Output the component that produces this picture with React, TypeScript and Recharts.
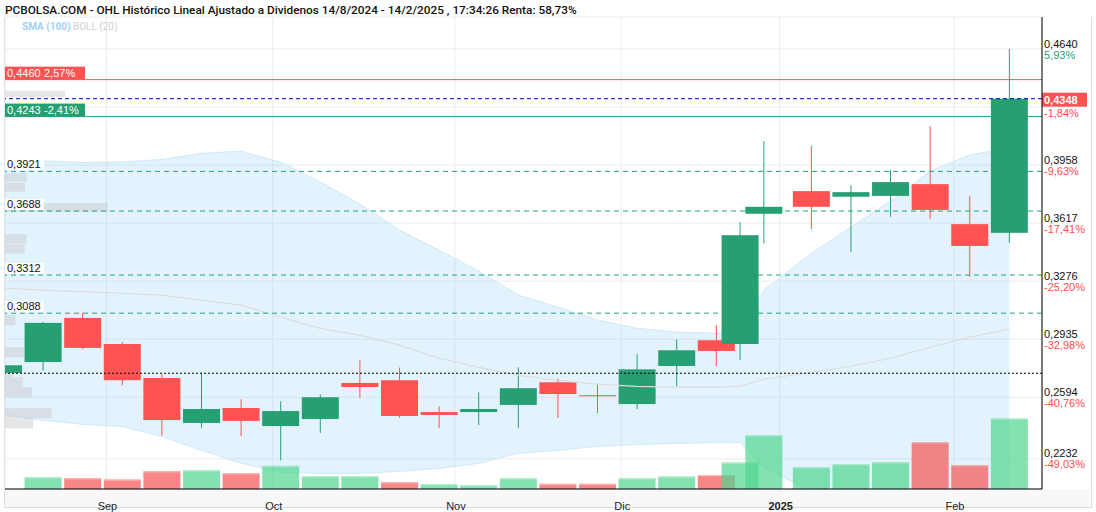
import React from "react";
import {
  ComposedChart,
  Bar,
  Area,
  Line,
  XAxis,
  YAxis,
  CartesianGrid,
  ReferenceLine,
  ReferenceArea,
} from "recharts";

const W = 1096;
const H = 512;
const GREEN = "#26a073";
const RED = "#ff5252";
const FONT = "'Liberation Sans', Arial, sans-serif";
const BODY_W = 37;

// weekly candles; x is the trading-day index of each candle
const tradeDay = [0, 5, 10, 15, 20, 25, 30, 35, 40, 45, 50, 55, 60, 65, 70, 75, 80, 85, 90, 93, 96, 102, 107, 112, 117, 122, 127];
const opens = [0.2737, 0.2801, 0.306, 0.2907, 0.2707, 0.2443, 0.2531, 0.2425, 0.2466, 0.2678, 0.2694, 0.2507, 0.2507, 0.2549, 0.2682, 0.2606, 0.2554, 0.2778, 0.2929, 0.2907, 0.3672, 0.3805, 0.3772, 0.3777, 0.3846, 0.3611, 0.356];
const highs = [0.2788, 0.3037, 0.309, 0.2919, 0.2729, 0.2737, 0.2582, 0.257, 0.2611, 0.2811, 0.2768, 0.2541, 0.2623, 0.277, 0.2704, 0.2674, 0.2847, 0.2933, 0.3017, 0.3623, 0.4099, 0.407, 0.384, 0.3929, 0.4187, 0.3776, 0.464];
const lows = [0.2732, 0.2749, 0.2876, 0.2664, 0.237, 0.2413, 0.2366, 0.2223, 0.2384, 0.259, 0.2474, 0.2413, 0.2431, 0.2413, 0.2472, 0.2501, 0.2525, 0.266, 0.2778, 0.2813, 0.3498, 0.3583, 0.3448, 0.3654, 0.3642, 0.3301, 0.3501];
const closes = [0.2782, 0.3031, 0.2884, 0.2694, 0.246, 0.2525, 0.2455, 0.2513, 0.2594, 0.2654, 0.2484, 0.249, 0.2525, 0.2647, 0.2613, 0.26, 0.2758, 0.287, 0.2866, 0.3546, 0.3713, 0.3713, 0.3799, 0.3858, 0.3695, 0.3483, 0.4348];
// volume (millions)
const volumes = [null, 1.2, 1.1, 0.97, 1.8, 1.9, 1.6, 2.33, 1.3, 1.3, 0.7, 0.5, 0.4, 1.1, 0.53, 0.53, 1.1, 1.27, 1.4, 2.67, 5.4, 2.2, 2.5, 2.7, 4.7, 2.4, 7.07];
// Bollinger (20)
const bollUp = [0.3982, 0.3982, 0.3974, 0.3976, 0.3991, 0.4027, 0.404, 0.3974, 0.3858, 0.3729, 0.3576, 0.3458, 0.3335, 0.3194, 0.3123, 0.3047, 0.2999, 0.2976, 0.297, 0.297, 0.3223, 0.344, 0.3593, 0.3746, 0.3923, 0.4017, 0.4058];
const bollMid = [0.3235, 0.3223, 0.3214, 0.3205, 0.3194, 0.3164, 0.3135, 0.3064, 0.2999, 0.2958, 0.29, 0.2823, 0.277, 0.2723, 0.2694, 0.267, 0.2658, 0.2653, 0.2653, 0.2658, 0.27, 0.2741, 0.2776, 0.2823, 0.2888, 0.2947, 0.2994];
const bollLow = [0.2488, 0.2459, 0.2435, 0.2423, 0.2364, 0.2282, 0.2206, 0.2153, 0.2147, 0.2147, 0.2159, 0.2176, 0.2206, 0.2265, 0.2282, 0.2306, 0.2317, 0.2323, 0.2329, 0.2329, 0.2182, 0.2041, 0.1958, 0.19, 0.1853, 0.1876, 0.1929];

// volume by price, left side (percent of the chart width)
const profileTop = [0.4395, 0.3911, 0.3855, 0.3735, 0.3552, 0.3491, 0.3076, 0.2888, 0.2732, 0.2712, 0.2653, 0.2529, 0.247];
const profileBottom = [0.4356, 0.3861, 0.3802, 0.3682, 0.3496, 0.3438, 0.3017, 0.2829, 0.2712, 0.2653, 0.2594, 0.247, 0.2411];
const profileSize = [5.8, 2.1, 1.9, 9.9, 2.1, 1.9, 1.0, 1.9, 0.8, 1.7, 2.6, 4.5, 2.7];

const monthTicks = [13, 34, 57, 78, 98, 120];
const monthLabels = ["Sep", "Oct", "Nov", "Dic", "2025", "Feb"];
const priceTicks = [0.464, 0.4299, 0.3958, 0.3617, 0.3276, 0.2935, 0.2594, 0.2232];
const priceTickPct = ["5,93%", "-1,84%", "-9,63%", "-17,41%", "-25,20%", "-32,98%", "-40,76%", "-49,03%"];

const tagPrices = [0.446, 0.4243];
const tagPct = ["2,57%", "-2,41%"];
const supportLevels = [0.3921, 0.3688, 0.3312, 0.3088];
const dottedLevel = 0.2735;

const X_DOMAIN = [0.19, 131.12];
const Y_DOMAIN = [0.2055, 0.4828];
const X_SPAN = X_DOMAIN[1] - X_DOMAIN[0];

const fmt = (v: number) => v.toFixed(4).replace(".", ",");

const data = tradeDay.map((t, i) => ({
  t,
  o: opens[i],
  h: highs[i],
  l: lows[i],
  c: closes[i],
  vol: volumes[i],
  volUp: i > 0 && closes[i] >= closes[i - 1],
  band: [bollLow[i], bollUp[i]],
  mid: bollMid[i],
}));

const lastClose = closes[closes.length - 1];

const Candle = (props: any) => {
  const { x, y, width, height, payload } = props;
  if (payload == null) return null;
  const top = Math.min(y, y + height);
  const hh = Math.abs(height);
  const cx = x + width / 2;
  const k = hh / (payload.h - payload.l);
  const yOf = (v: number) => top + (payload.h - v) * k;
  const bTop = yOf(Math.max(payload.o, payload.c));
  const bBot = yOf(Math.min(payload.o, payload.c));
  const col = payload.c >= payload.o ? GREEN : RED;
  return (
    <g>
      <line x1={cx} x2={cx} y1={top} y2={top + hh} stroke={col} strokeWidth={1} />
      <rect x={cx - BODY_W / 2} y={bTop} width={BODY_W} height={Math.max(1, bBot - bTop)} fill={col} />
    </g>
  );
};

const VolBar = (props: any) => {
  const { x, y, width, height, payload } = props;
  if (payload == null || payload.vol == null) return null;
  const cx = x + width / 2;
  const col = payload.volUp ? "#4fd68f" : "#f65454";
  return (
    <g opacity={0.7}>
      <rect x={cx - BODY_W / 2} y={y} width={BODY_W} height={height} fill={col} />
      <rect x={cx - BODY_W / 2} y={y} width={BODY_W} height={1.5} fill="#fff" opacity={0.35} />
    </g>
  );
};

const PriceTick = (props: any) => {
  const { x, y, payload } = props;
  const i = priceTicks.indexOf(payload.value);
  const pct = priceTickPct[i] || "";
  // the last-price tag covers the price text of the tick next to it
  const covered = Math.abs(payload.value - lastClose) < 0.006;
  return (
    <g fontFamily={FONT} fontSize={11}>
      {!covered && <text x={x} y={y - 1.5} fill="#111">{fmt(payload.value)}</text>}
      <text x={x} y={y + 9.5} fill={pct.startsWith("-") ? "#ff4d4d" : GREEN}>{pct}</text>
    </g>
  );
};

const MonthTick = (props: any) => {
  const { x, y, payload } = props;
  const i = monthTicks.indexOf(payload.value);
  const label = monthLabels[i];
  return (
    <text x={x + 1} y={y + 13} textAnchor="middle" fontFamily={FONT} fontSize={11} fill="#222" fontWeight={label === "2025" ? 700 : 400}>
      {label}
    </text>
  );
};

const LeftTag = (props: any) => {
  const { viewBox, price, pct, fill } = props;
  if (!viewBox) return null;
  return (
    <g fontFamily={FONT} fontSize={11}>
      <rect x={viewBox.x} y={viewBox.y - 13} width={80} height={13} fill={fill} />
      <text x={viewBox.x + 2} y={viewBox.y - 3} fill="#fff">{price}</text>
      <text x={viewBox.x + 39} y={viewBox.y - 3} fill="#fff">{pct}</text>
    </g>
  );
};

const LevelTag = (props: any) => {
  const { viewBox, price } = props;
  if (!viewBox) return null;
  return (
    <g fontFamily={FONT} fontSize={11}>
      <rect x={viewBox.x} y={viewBox.y - 12} width={39} height={11} fill="#fff" opacity={0.9} />
      <text x={viewBox.x + 2} y={viewBox.y - 3} fill="#111">{price}</text>
    </g>
  );
};

const LastTag = (props: any) => {
  const { viewBox, price } = props;
  if (!viewBox) return null;
  const x = viewBox.x + viewBox.width;
  return (
    <g fontFamily={FONT} fontSize={11}>
      <rect x={x} y={viewBox.y - 6} width={45} height={14} fill={RED} />
      <text x={x + 2} y={viewBox.y + 5} fill="#fff" fontWeight={700}>{price}</text>
    </g>
  );
};

export default function App() {
  return (
    <div style={{ position: "absolute", left: 0, top: 0, width: W, height: H, background: "#fff", overflow: "hidden" }}>
      {/* frame + x-axis band */}
      <div style={{ position: "absolute", left: 4, top: 17, width: 1086, height: 490, borderLeft: "1px solid #dcdcdc", borderRight: "1px solid #dcdcdc", borderBottom: "1px solid #dcdcdc" }} />
      <div style={{ position: "absolute", left: 5, top: 489, width: 1085, height: 18, background: "#f8f8f8" }} />
      <div style={{ position: "absolute", left: 0, top: 0 }}>
        <ComposedChart width={W} height={H} data={data} margin={{ top: 17, right: 0, bottom: 0, left: 5 }}>
          <CartesianGrid xAxisId="main" yAxisId="price" stroke="#ebebeb" />
          <XAxis
            xAxisId="main"
            dataKey="t"
            type="number"
            domain={X_DOMAIN}
            allowDataOverflow
            ticks={monthTicks}
            tick={<MonthTick />}
            tickLine={false}
            height={23}
            axisLine={{ stroke: "#000" }}
            interval={0}
          />
          <XAxis xAxisId="vol" dataKey="t" type="number" domain={X_DOMAIN} allowDataOverflow hide />
          <YAxis
            yAxisId="price"
            orientation="right"
            domain={Y_DOMAIN}
            allowDataOverflow
            ticks={priceTicks}
            tick={<PriceTick />}
            tickLine={false}
            tickSize={0}
            tickMargin={2}
            width={54}
            axisLine={{ stroke: "#000" }}
            interval={0}
          />
          <YAxis yAxisId="vol" domain={[0, 47.2]} hide />

          <Bar xAxisId="vol" yAxisId="vol" dataKey="vol" shape={<VolBar />} isAnimationActive={false} />
          <Area
            xAxisId="main"
            yAxisId="price"
            dataKey="band"
            type="linear"
            stroke="#cfe8f9"
            strokeWidth={1}
            fill="#8ccff8"
            fillOpacity={0.25}
            isAnimationActive={false}
          />
          <Line xAxisId="main" yAxisId="price" dataKey="mid" type="linear" stroke="#dcdcdc" strokeWidth={1.2} dot={false} isAnimationActive={false} />

          {profileTop.map((p, i) => (
            <ReferenceArea
              key={"pf" + i}
              xAxisId="main"
              yAxisId="price"
              x1={X_DOMAIN[0]}
              x2={X_DOMAIN[0] + (profileSize[i] / 100) * X_SPAN}
              y1={profileBottom[i]}
              y2={p}
              fill="#c4c4c4"
              fillOpacity={0.42}
              stroke="none"
            />
          ))}

          {tagPrices.map((p, i) => (
            <ReferenceLine
              key={"tg" + i}
              xAxisId="main"
              yAxisId="price"
              y={p}
              stroke={tagPct[i].startsWith("-") ? GREEN : RED}
              strokeWidth={1}
              label={<LeftTag price={fmt(p)} pct={tagPct[i]} fill={tagPct[i].startsWith("-") ? GREEN : RED} />}
            />
          ))}
          {supportLevels.map((p) => (
            <ReferenceLine
              key={"sp" + p}
              xAxisId="main"
              yAxisId="price"
              y={p}
              stroke={GREEN}
              strokeDasharray="5 4"
              label={<LevelTag price={fmt(p)} />}
            />
          ))}
          <ReferenceLine xAxisId="main" yAxisId="price" y={dottedLevel} stroke="#000" strokeDasharray="2 2" />
          <ReferenceLine
            xAxisId="main"
            yAxisId="price"
            y={lastClose}
            stroke="#0000c0"
            strokeDasharray="4 3"
            label={<LastTag price={fmt(lastClose)} />}
          />

          <Bar xAxisId="main" yAxisId="price" dataKey={(d: any) => [d.l, d.h]} shape={<Candle />} isAnimationActive={false} />
        </ComposedChart>
      </div>
      <div style={{ position: "absolute", left: 5, top: 3, fontFamily: "Roboto, sans-serif", fontWeight: 500, fontSize: 11.8, color: "#111", whiteSpace: "nowrap" }}>
        PCBOLSA.COM - OHL Histórico Lineal Ajustado a Dividenos 14/8/2024 - 14/2/2025 , 17:34:26 Renta: 58,73%
      </div>
      <div style={{ position: "absolute", left: 22, top: 21, fontFamily: "Roboto, sans-serif", fontSize: 10, whiteSpace: "nowrap" }}>
        <span style={{ color: "#9fd3f5", fontWeight: 700 }}>SMA (100)</span>{" "}
        <span style={{ color: "#d0d0d0" }}>BOLL (20)</span>
      </div>
    </div>
  );
}
